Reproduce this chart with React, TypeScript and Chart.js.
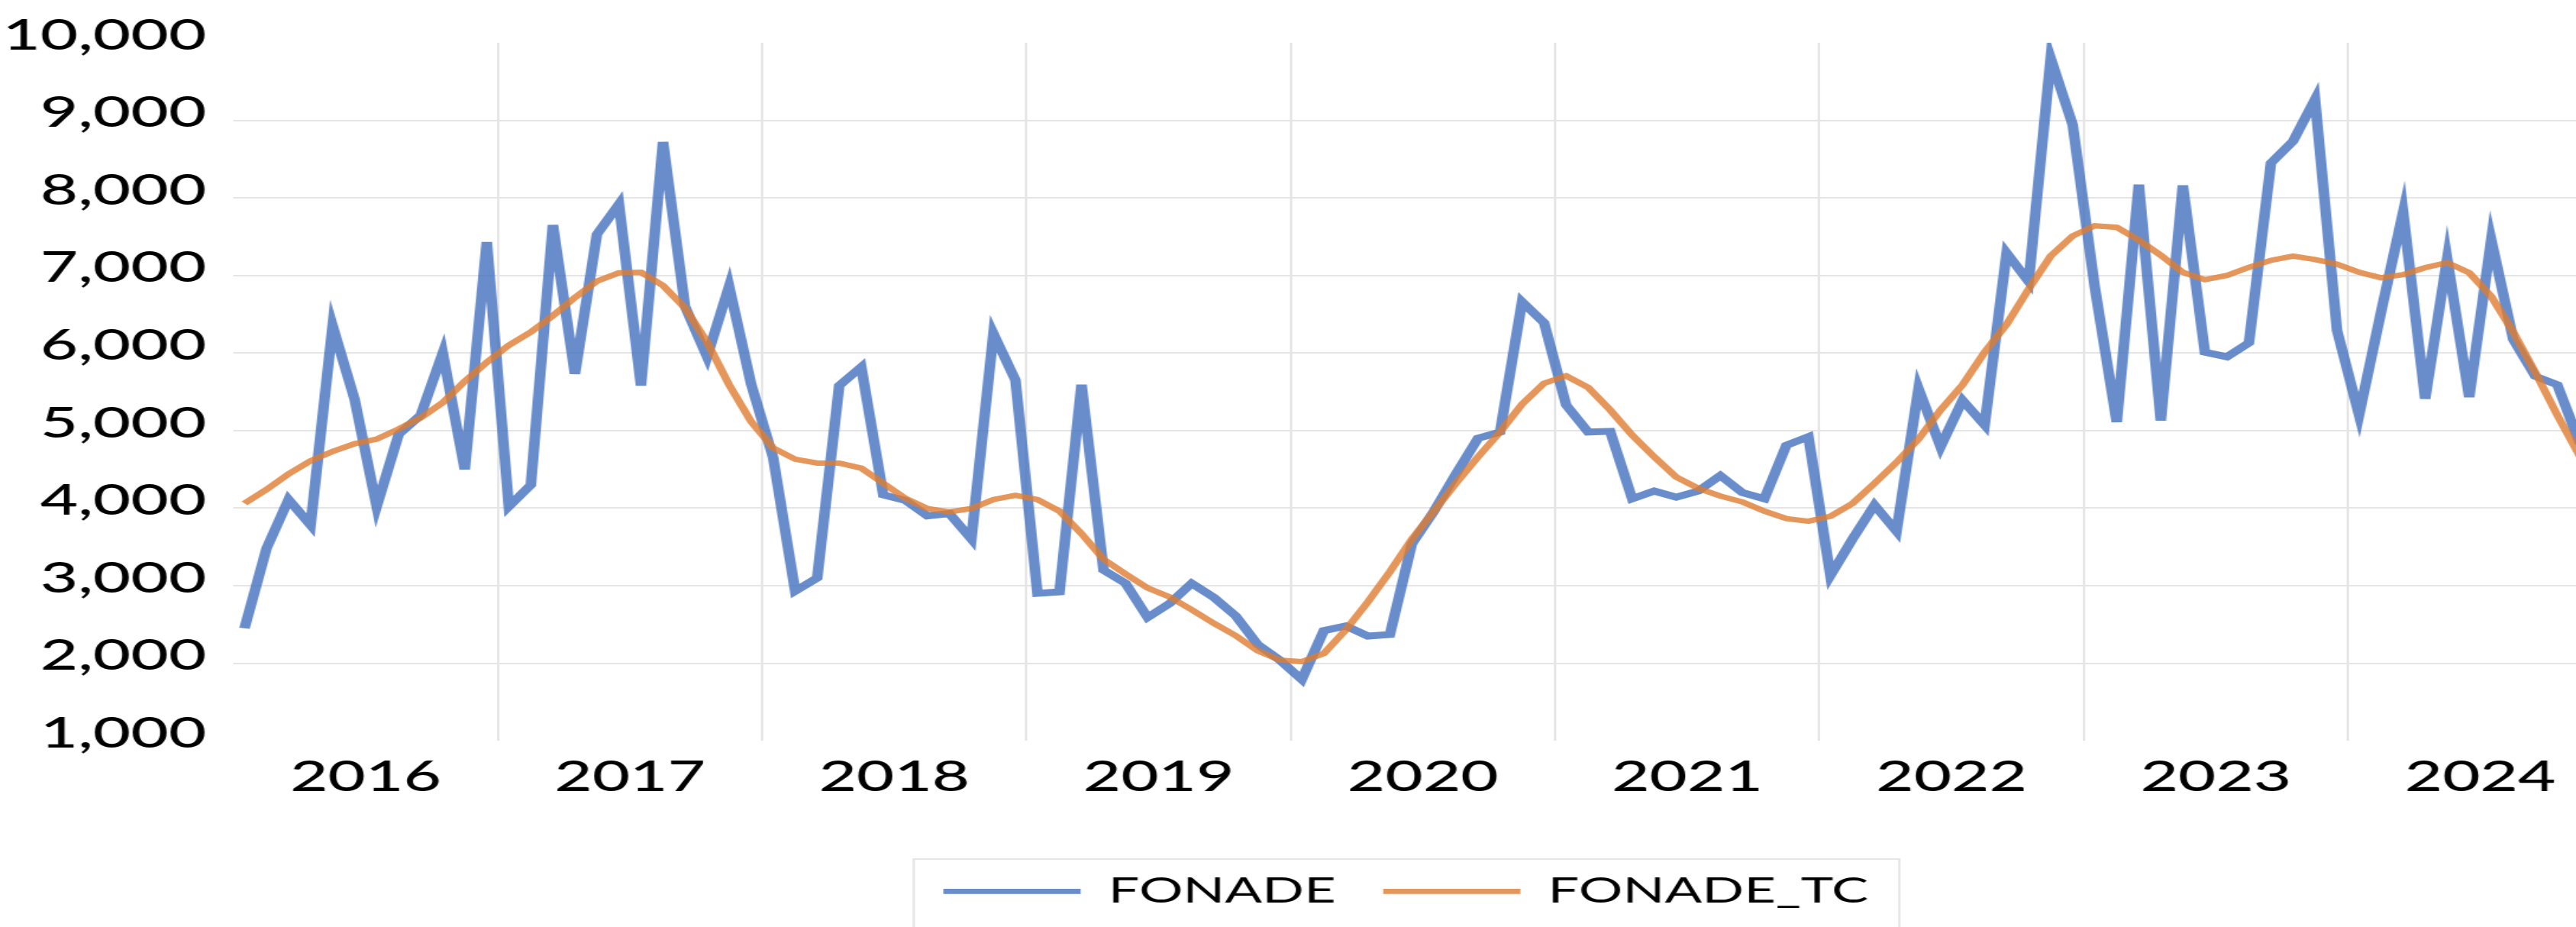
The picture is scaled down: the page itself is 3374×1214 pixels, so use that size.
import { useEffect, useRef } from 'react';
import { Chart, registerables } from 'chart.js';

Chart.register(...registerables);

// ---- data ----
const YEARS = ['2016', '2017', '2018', '2019', '2020', '2021', '2022', '2023', '2024'];
const MONTH_CODES = ['01', '02', '03', '04', '05', '06', '07', '08', '09', '10', '11', '12'];
const MONTHS: string[] = YEARS.flatMap((y) => MONTH_CODES.map((m) => `${y}-${m}`));

const FONADE = [
  // 2016
  2450, 3480, 4110, 3780, 6350, 5400, 4020, 4950, 5200, 6000, 4500, 7430,
  // 2017
  4020, 4300, 7650, 5730, 7530, 7920, 5580, 8720, 6600, 5950, 6860, 5600,
  // 2018
  4650, 2930, 3100, 5580, 5820, 4170, 4100, 3900, 3930, 3600, 6250, 5650,
  // 2019
  2900, 2920, 5590, 3200, 3030, 2590, 2770, 3030, 2850, 2610, 2240, 2040,
  // 2020
  1790, 2420, 2480, 2350, 2370, 3540, 3960, 4440, 4900, 4980, 6660, 6390,
  // 2021
  5330, 4980, 4990, 4120, 4220, 4140, 4220, 4420, 4200, 4120, 4810, 4920,
  // 2022
  3130, 3600, 4040, 3700, 5540, 4790, 5390, 5070, 7290, 6920, 9800, 8940,
  // 2023
  6850, 5110, 8170, 5130, 8160, 6010, 5950, 6130, 8450, 8730, 9270, 6290,
  // 2024
  5200, 6530, 7815, 5410, 7215, 5430, 7460, 6175, 5700, 5590, 4850, 4600,
];

const FONADE_TC = [
  // 2016
  4060, 4240, 4440, 4610, 4730, 4830, 4890, 5020, 5165, 5360, 5635, 5880,
  // 2017
  6100, 6270, 6480, 6715, 6925, 7035, 7040, 6870, 6580, 6140, 5590, 5115,
  // 2018
  4775, 4630, 4580, 4580, 4515, 4320, 4125, 3995, 3950, 3995, 4110, 4165,
  // 2019
  4110, 3960, 3670, 3340, 3150, 2970, 2855, 2690, 2515, 2355, 2160, 2040,
  // 2020
  2020, 2125, 2430, 2790, 3180, 3600, 3960, 4320, 4660, 4980, 5340, 5610,
  // 2021
  5705, 5555, 5265, 4940, 4660, 4400, 4255, 4155, 4080, 3960, 3865, 3830,
  // 2022
  3895, 4060, 4320, 4590, 4890, 5265, 5590, 6010, 6370, 6825, 7250, 7510,
  // 2023
  7640, 7620, 7455, 7260, 7040, 6945, 7000, 7105, 7195, 7250, 7205, 7145,
  // 2024
  7040, 6970, 7010, 7100, 7165, 7035, 6730, 6270, 5750, 5200, 4680, 4200,
];

const Y_TICKS = [1000, 2000, 3000, 4000, 5000, 6000, 7000, 8000, 9000, 10000];

const SERIES_LABELS = ['FONADE', 'FONADE_TC'];
const SERIES_COLORS = ['rgba(68,112,190,0.8)', 'rgba(222,125,50,0.8)'];

// ---- geometry (internal canvas pixels; canvas is stretched horizontally) ----
const STRETCH = 1.55;
const CANVAS_W = 2376;
const CANVAS_H = 1240;
const GRID = '#E5E5E5';
const FONT = 'Lato';

const near = (a: number, b: number) => Math.abs(a - b) < 1e-6;

const legendBorder = {
  id: 'legendBorder',
  afterDraw(chart: any) {
    const lg = chart.legend;
    if (!lg || !lg.legendHitBoxes || !lg.legendHitBoxes.length) return;
    const hb = lg.legendHitBoxes;
    const left = hb[0].left - 25;
    const last = hb[hb.length - 1];
    const right = last.left + last.width + 26;
    const top = 1125;
    const ctx = chart.ctx;
    ctx.save();
    ctx.strokeStyle = GRID;
    ctx.lineWidth = 2;
    ctx.strokeRect(left, top, right - left, chart.height - top + 20);
    ctx.restore();
  },
};

export default function App() {
  const ref = useRef<HTMLCanvasElement | null>(null);

  useEffect(() => {
    let chart: Chart | null = null;
    let cancelled = false;
    const build = () => {
      if (cancelled || !ref.current) return;
      chart = new Chart(ref.current, {
        type: 'line',
        data: {
          datasets: [
            {
              label: SERIES_LABELS[0],
              data: FONADE.map((v, i) => ({ x: i, y: v })),
              borderColor: SERIES_COLORS[0],
              backgroundColor: SERIES_COLORS[0],
              borderWidth: 9,
              pointRadius: 0,
              tension: 0,
              order: 1,
              yAxisID: 'y',
            },
            {
              label: SERIES_LABELS[1],
              data: FONADE_TC.map((v, i) => ({ x: i, y: v })),
              borderColor: SERIES_COLORS[1],
              backgroundColor: SERIES_COLORS[1],
              borderWidth: 7,
              pointRadius: 0,
              tension: 0,
              order: 0,
              yAxisID: 'y',
            },
          ],
        },
        options: {
          responsive: false,
          animation: false,
          devicePixelRatio: 1,
          layout: { padding: { top: 45, left: 0, right: 0, bottom: 39.4 } },
          scales: {
            x: {
              type: 'linear',
              min: -0.5,
              max: MONTHS.length - 0.5,
              afterBuildTicks: (s: any) => {
                const t: { value: number }[] = [];
                YEARS.forEach((_, k) => {
                  t.push({ value: 12 * k - 0.5 });
                  t.push({ value: 12 * k + 5.5 });
                });
                t.push({ value: MONTHS.length - 0.5 });
                s.ticks = t;
              },
              afterFit: (s: any) => {
                s.height = 134;
              },
              ticks: {
                autoSkip: false,
                maxRotation: 0,
                minRotation: 0,
                padding: 15.5,
                color: '#000',
                font: { family: FONT, size: 55, weight: '500' },
                callback: (v: any) => {
                  const k = (Number(v) - 5.5) / 12;
                  return near(k, Math.round(k)) ? YEARS[Math.round(k)] : '';
                },
              },
              grid: {
                drawTicks: false,
                lineWidth: 2,
                color: (c: any) => {
                  const v = c.tick ? c.tick.value : NaN;
                  const k = (v + 0.5) / 12;
                  return near(k, Math.round(k)) && Math.round(k) > 0 && Math.round(k) < YEARS.length
                    ? GRID
                    : 'rgba(0,0,0,0)';
                },
              },
              border: { display: false },
            },
            y: {
              type: 'linear',
              position: 'left',
              min: 1000,
              max: 10000,
              afterBuildTicks: (s: any) => {
                s.ticks = Y_TICKS.map((v) => ({ value: v }));
              },
              afterFit: (s: any) => {
                s.width = 197.3;
              },
              ticks: {
                padding: 23,
                labelOffset: -9,
                color: '#000',
                font: { family: FONT, size: 55, weight: '500' },
                callback: (v: any) => Number(v).toLocaleString('en-US'),
              },
              grid: {
                drawTicks: false,
                lineWidth: 2,
                color: (c: any) =>
                  c.tick && c.tick.value > Y_TICKS[0] && c.tick.value < Y_TICKS[Y_TICKS.length - 1]
                    ? GRID
                    : 'rgba(0,0,0,0)',
              },
              border: { display: false },
            },
            y2: {
              type: 'linear',
              position: 'right',
              display: true,
              grid: { display: false },
              ticks: { display: false },
              border: { display: false },
              afterFit: (s: any) => {
                s.width = 168.5;
              },
            },
          },
          plugins: {
            tooltip: { enabled: false },
            title: { display: false },
            legend: {
              display: true,
              position: 'bottom',
              align: 'center',
              labels: {
                boxWidth: 116,
                boxHeight: 6.7,
                padding: 40,
                color: '#000',
                font: { family: FONT, size: 46.5 },
                generateLabels: (ch: any) =>
                  ch.data.datasets.map((ds: any, i: number) => ({
                    text: ds.label,
                    fillStyle: ds.borderColor,
                    strokeStyle: ds.borderColor,
                    lineWidth: 0,
                    hidden: false,
                    datasetIndex: i,
                  })),
              },
            },
          },
        },
        plugins: [legendBorder],
      } as any);
    };

    const fontsReady = (document as any).fonts
      ? Promise.all([
          (document as any).fonts.load(`500 54px ${FONT}`),
          (document as any).fonts.load(`46px ${FONT}`),
        ]).catch(() => null)
      : Promise.resolve(null);
    fontsReady.then(build);

    return () => {
      cancelled = true;
      if (chart) chart.destroy();
    };
  }, []);

  return (
    <div
      style={{
        position: 'fixed',
        left: 0,
        top: 0,
        width: 3374,
        height: 1214,
        overflow: 'hidden',
        background: '#fff',
      }}
    >
      <canvas
        ref={ref}
        width={CANVAS_W}
        height={CANVAS_H}
        style={{ display: 'block', transform: `scaleX(${STRETCH})`, transformOrigin: '0 0' }}
      />
    </div>
  );
}
